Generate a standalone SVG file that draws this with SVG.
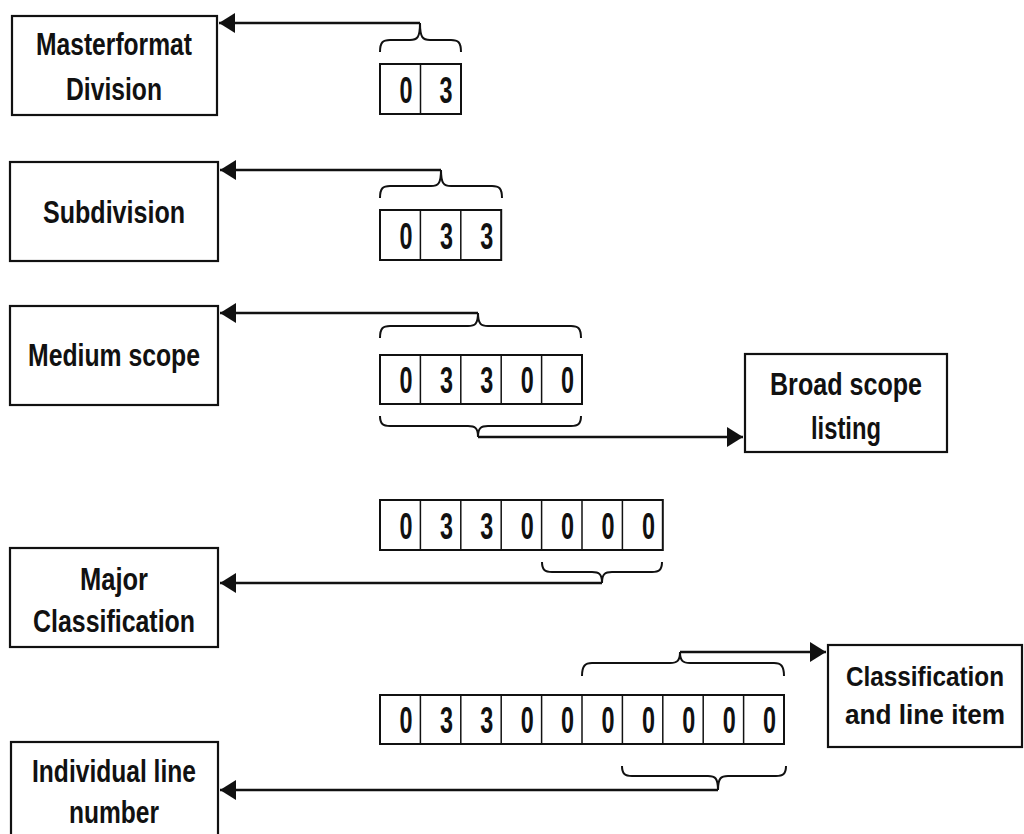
<svg xmlns="http://www.w3.org/2000/svg" width="1024" height="834" viewBox="0 0 1024 834">
<style>
.box{fill:#fff;stroke:#111;stroke-width:2.2}
.cell{fill:#fff;stroke:#111;stroke-width:2}
.div{stroke:#111;stroke-width:1.5}
.lbl{font-family:"Liberation Sans Narrow","Liberation Sans",Arial,sans-serif;font-weight:bold;font-size:31px;fill:#111;text-anchor:middle}
.sm{font-size:28px}
.dg{font-family:"Liberation Sans Narrow","Liberation Sans",Arial,sans-serif;font-weight:bold;font-size:37px;fill:#111;text-anchor:middle}
.br{fill:none;stroke:#111;stroke-width:2}
.ar{fill:none;stroke:#111;stroke-width:2.5;marker-end:url(#ah)}
</style>
<defs>
<marker id="ah" markerUnits="userSpaceOnUse" markerWidth="18" markerHeight="22" refX="16" refY="10" orient="auto">
<path d="M0,0 L16,10 L0,20 Z" fill="#111"/>
</marker>
</defs>
<rect width="1024" height="834" fill="#fff"/>

<g id="connectors">
<path class="ar" d="M420,23 H219"/>
<path class="ar" d="M441,170 H220"/>
<path class="ar" d="M478,313 H220"/>
<path class="ar" d="M478,437 H743"/>
<path class="ar" d="M602,583 H220"/>
<path class="ar" d="M680,652 H826"/>
<path class="ar" d="M718,790 H220"/>
<path class="br" d="M380,52 C380,42 383,40 390,40 L410,40 C417,40 420,38 420,23 C420,38 423,40 430,40 L451,40 C458,40 461,42 461,52"/>
<path class="br" d="M380,198 C380,188 383,186 390,186 L431,186 C438,186 441,184 441,170 C441,184 444,186 451,186 L492,186 C499,186 502,188 502,198"/>
<path class="br" d="M380,338 C380,328 383,326 390,326 L468,326 C475,326 478,324 478,313 C478,324 481,326 488,326 L571,326 C578,326 581,328 581,338"/>
<path class="br" d="M380,416 C380,424 383,426 390,426 L468,426 C475,426 478,428 478,437 C478,428 481,426 488,426 L571,426 C578,426 581,424 581,416"/>
<path class="br" d="M542,562 C542,570 545,572 552,572 L592,572 C599,572 602,574 602,583 C602,574 605,572 612,572 L652,572 C659,572 662,570 662,562"/>
<path class="br" d="M582,676 C582,666 585,663 592,663 L670,663 C677,663 680,661 680,652 C680,661 683,663 690,663 L774,663 C781,663 784,666 784,676"/>
<path class="br" d="M622,766 C622,774 625,776 632,776 L708,776 C715,776 718,778 718,790 C718,778 721,776 728,776 L776,776 C783,776 786,774 786,766"/>
</g>

<g id="node-masterformat">
<rect class="box" x="12" y="16" width="205" height="99"/>
<text class="lbl" x="114" y="55" textLength="156" lengthAdjust="spacingAndGlyphs">Masterformat</text>
<text class="lbl" x="114" y="100" textLength="96" lengthAdjust="spacingAndGlyphs">Division</text>
</g>
<g id="node-subdivision">
<rect class="box" x="10" y="162" width="208" height="99"/>
<text class="lbl" x="114" y="223" textLength="142" lengthAdjust="spacingAndGlyphs">Subdivision</text>
</g>
<g id="node-medium">
<rect class="box" x="10" y="306" width="208" height="99"/>
<text class="lbl" x="114" y="366" textLength="172" lengthAdjust="spacingAndGlyphs">Medium scope</text>
</g>
<g id="node-broad">
<rect class="box" x="745" y="354" width="202" height="98"/>
<text class="lbl" x="846" y="395" textLength="152" lengthAdjust="spacingAndGlyphs">Broad scope</text>
<text class="lbl" x="846" y="439" textLength="70" lengthAdjust="spacingAndGlyphs">listing</text>
</g>
<g id="node-major">
<rect class="box" x="10" y="548" width="208" height="99"/>
<text class="lbl" x="114" y="590" textLength="68" lengthAdjust="spacingAndGlyphs">Major</text>
<text class="lbl" x="114" y="632" textLength="162" lengthAdjust="spacingAndGlyphs">Classification</text>
</g>
<g id="node-classline">
<rect class="box" x="828" y="645" width="194" height="102"/>
<text class="lbl sm" x="925" y="686" textLength="158" lengthAdjust="spacingAndGlyphs">Classification</text>
<text class="lbl sm" x="925" y="724" textLength="160" lengthAdjust="spacingAndGlyphs">and line item</text>
</g>
<g id="node-individual">
<rect class="box" x="11" y="742" width="207" height="110"/>
<text class="lbl" x="114" y="782" textLength="164" lengthAdjust="spacingAndGlyphs">Individual line</text>
<text class="lbl" x="114" y="823" textLength="90" lengthAdjust="spacingAndGlyphs">number</text>
</g>

<g id="code-03">
<rect class="cell" x="380" y="64" width="81" height="50"/>
<line class="div" x1="420.5" y1="64" x2="420.5" y2="114"/>
<text class="dg" x="406" y="103" textLength="13" lengthAdjust="spacingAndGlyphs">0</text>
<text class="dg" x="446" y="103" textLength="13" lengthAdjust="spacingAndGlyphs">3</text>
</g>
<g id="code-033">
<rect class="cell" x="380" y="210" width="121.2" height="50"/>
<line class="div" x1="420.4" y1="210" x2="420.4" y2="260"/>
<line class="div" x1="460.8" y1="210" x2="460.8" y2="260"/>
<text class="dg" x="406" y="249" textLength="13" lengthAdjust="spacingAndGlyphs">0</text>
<text class="dg" x="446.4" y="249" textLength="13" lengthAdjust="spacingAndGlyphs">3</text>
<text class="dg" x="486.8" y="249" textLength="13" lengthAdjust="spacingAndGlyphs">3</text>
</g>
<g id="code-03300">
<rect class="cell" x="380" y="355" width="202" height="49"/>
<line class="div" x1="420.4" y1="355" x2="420.4" y2="404"/>
<line class="div" x1="460.8" y1="355" x2="460.8" y2="404"/>
<line class="div" x1="501.2" y1="355" x2="501.2" y2="404"/>
<line class="div" x1="541.6" y1="355" x2="541.6" y2="404"/>
<text class="dg" x="406" y="393" textLength="13" lengthAdjust="spacingAndGlyphs">0</text>
<text class="dg" x="446.4" y="393" textLength="13" lengthAdjust="spacingAndGlyphs">3</text>
<text class="dg" x="486.8" y="393" textLength="13" lengthAdjust="spacingAndGlyphs">3</text>
<text class="dg" x="527.2" y="393" textLength="13" lengthAdjust="spacingAndGlyphs">0</text>
<text class="dg" x="567.6" y="393" textLength="13" lengthAdjust="spacingAndGlyphs">0</text>
</g>
<g id="code-0330000">
<rect class="cell" x="380" y="500" width="282.8" height="50"/>
<line class="div" x1="420.4" y1="500" x2="420.4" y2="550"/>
<line class="div" x1="460.8" y1="500" x2="460.8" y2="550"/>
<line class="div" x1="501.2" y1="500" x2="501.2" y2="550"/>
<line class="div" x1="541.6" y1="500" x2="541.6" y2="550"/>
<line class="div" x1="582" y1="500" x2="582" y2="550"/>
<line class="div" x1="622.4" y1="500" x2="622.4" y2="550"/>
<text class="dg" x="406" y="539" textLength="13" lengthAdjust="spacingAndGlyphs">0</text>
<text class="dg" x="446.4" y="539" textLength="13" lengthAdjust="spacingAndGlyphs">3</text>
<text class="dg" x="486.8" y="539" textLength="13" lengthAdjust="spacingAndGlyphs">3</text>
<text class="dg" x="527.2" y="539" textLength="13" lengthAdjust="spacingAndGlyphs">0</text>
<text class="dg" x="567.6" y="539" textLength="13" lengthAdjust="spacingAndGlyphs">0</text>
<text class="dg" x="608" y="539" textLength="13" lengthAdjust="spacingAndGlyphs">0</text>
<text class="dg" x="648.4" y="539" textLength="13" lengthAdjust="spacingAndGlyphs">0</text>
</g>
<g id="code-0330000000">
<rect class="cell" x="380" y="695" width="404" height="49"/>
<line class="div" x1="420.4" y1="695" x2="420.4" y2="744"/>
<line class="div" x1="460.8" y1="695" x2="460.8" y2="744"/>
<line class="div" x1="501.2" y1="695" x2="501.2" y2="744"/>
<line class="div" x1="541.6" y1="695" x2="541.6" y2="744"/>
<line class="div" x1="582" y1="695" x2="582" y2="744"/>
<line class="div" x1="622.4" y1="695" x2="622.4" y2="744"/>
<line class="div" x1="662.8" y1="695" x2="662.8" y2="744"/>
<line class="div" x1="703.2" y1="695" x2="703.2" y2="744"/>
<line class="div" x1="743.6" y1="695" x2="743.6" y2="744"/>
<text class="dg" x="406" y="733" textLength="13" lengthAdjust="spacingAndGlyphs">0</text>
<text class="dg" x="446.4" y="733" textLength="13" lengthAdjust="spacingAndGlyphs">3</text>
<text class="dg" x="486.8" y="733" textLength="13" lengthAdjust="spacingAndGlyphs">3</text>
<text class="dg" x="527.2" y="733" textLength="13" lengthAdjust="spacingAndGlyphs">0</text>
<text class="dg" x="567.6" y="733" textLength="13" lengthAdjust="spacingAndGlyphs">0</text>
<text class="dg" x="608" y="733" textLength="13" lengthAdjust="spacingAndGlyphs">0</text>
<text class="dg" x="648.4" y="733" textLength="13" lengthAdjust="spacingAndGlyphs">0</text>
<text class="dg" x="688.8" y="733" textLength="13" lengthAdjust="spacingAndGlyphs">0</text>
<text class="dg" x="729.2" y="733" textLength="13" lengthAdjust="spacingAndGlyphs">0</text>
<text class="dg" x="769.6" y="733" textLength="13" lengthAdjust="spacingAndGlyphs">0</text>
</g>
</svg>
